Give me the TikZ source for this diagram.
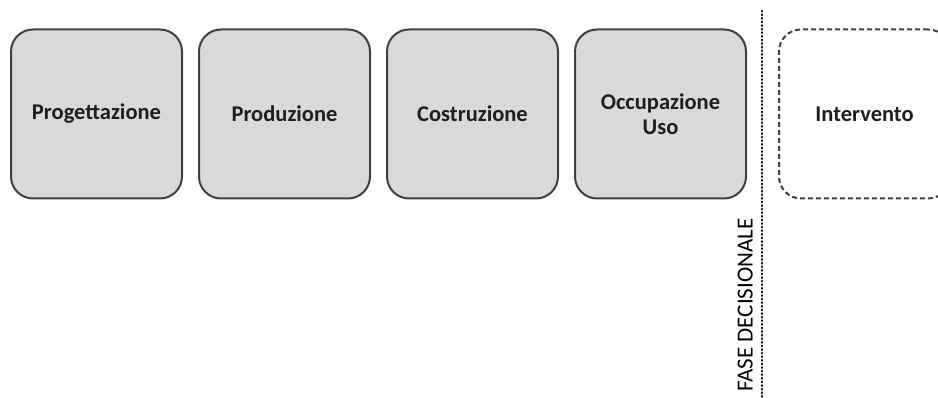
\documentclass[tikz,border=0pt]{standalone}
\usepackage{fontspec}
\setmainfont{Carlito}
\usepackage{tikz}
\usetikzlibrary{positioning}
\definecolor{phfill}{RGB}{217,217,217}
\definecolor{phline}{RGB}{64,64,64}
\definecolor{phtext}{RGB}{30,30,30}
\tikzstyle{phasebox} = [rectangle, rounded corners=22pt, minimum width=171pt, minimum height=169pt, align=center, draw=phline, fill=phfill, line width=2pt, text=phtext, font=\fontsize{22.5}{25}\selectfont\bfseries]
\tikzstyle{futurebox} = [phasebox, fill=none, dashed, dash pattern=on 5pt off 3pt]
\tikzstyle{divider} = [line width=2.8pt, dash pattern=on 0.3pt off 3.3pt, line cap=round, color=black]

\begin{document}
\begin{tikzpicture}[x=1pt, y=-1pt]
\useasboundingbox (0,0) rectangle (938,398);
\begin{scope}
\clip (0,0) rectangle (938,398);
% Phases before the decision
\node[phasebox] (prog) at (96.5,114) {Progettazione};
\node[phasebox, right=15pt of prog] (prod) {Produzione};
\node[phasebox, right=15pt of prod] (costr) {Costruzione};
\node[phasebox, right=15pt of costr] (occ) {Occupazione\\Uso};

% Decision line
\coordinate (dtop) at (762,11);
\coordinate (dbot) at (762,398);
\draw[divider] (dtop) -- (dbot);
\node[rotate=90, text=black, font=\fontsize{23}{25}\selectfont, anchor=south west, inner sep=1pt] (fase) at (754,393) {FASE DECISIONALE};

% Phase after the decision
\node[futurebox] (interv) at (864.5,114) {Intervento};
\end{scope}
\end{tikzpicture}
\end{document}
